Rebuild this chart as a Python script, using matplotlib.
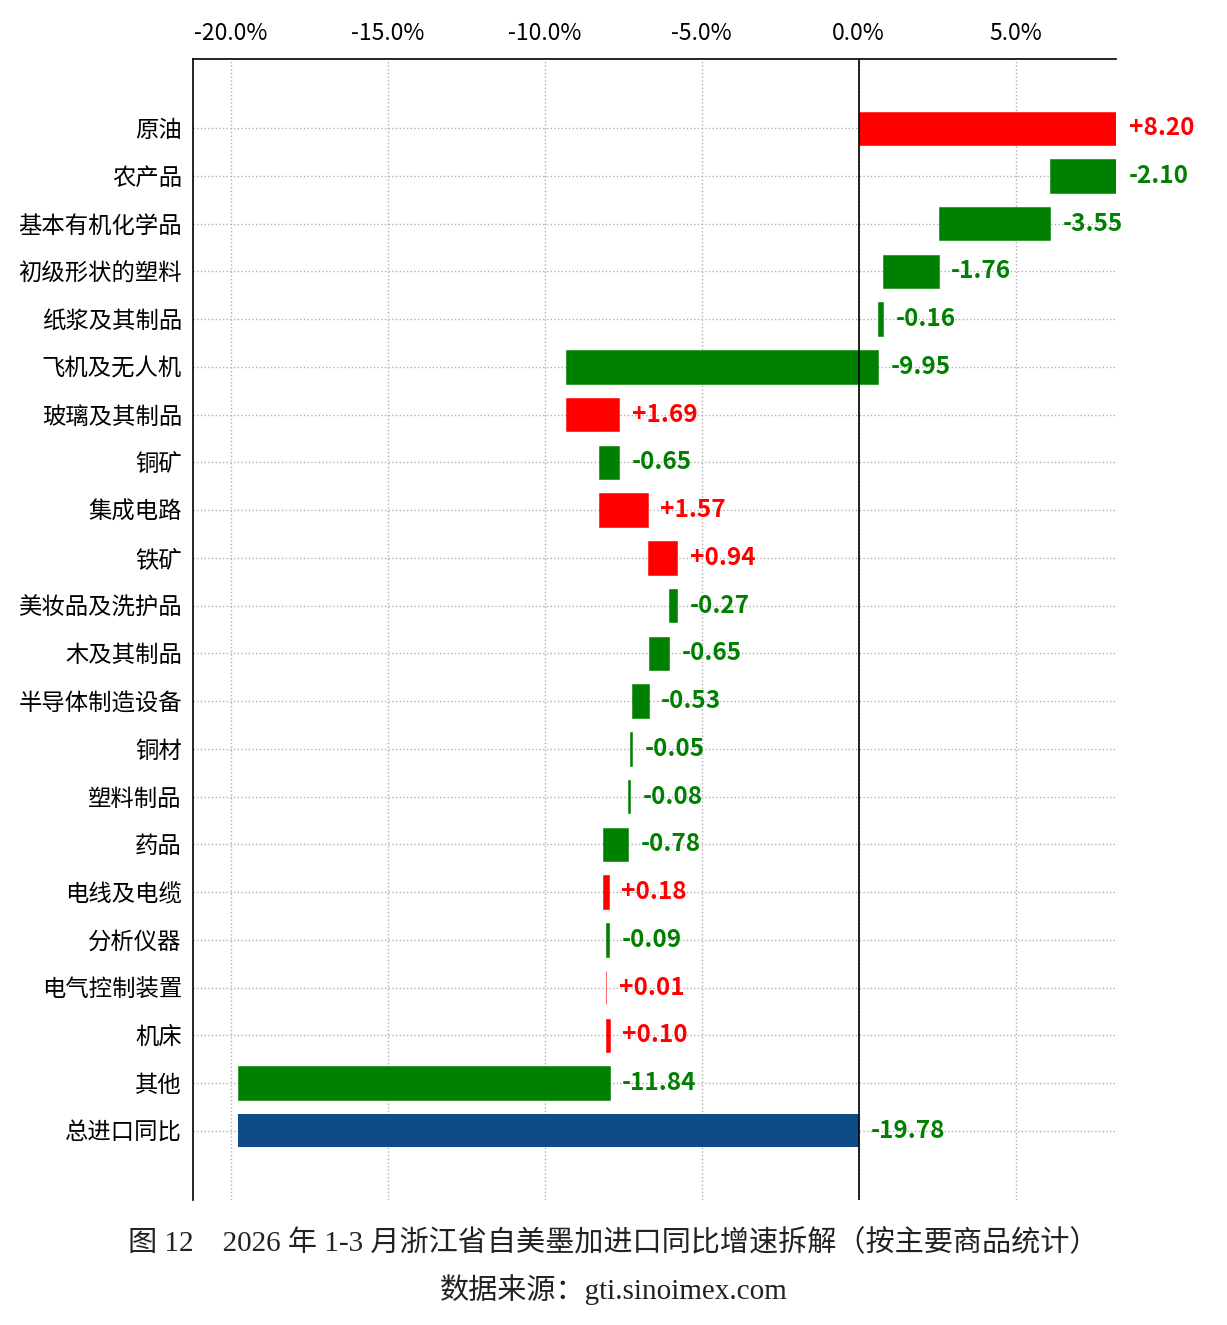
import matplotlib
matplotlib.use("Agg")
import matplotlib.pyplot as plt
import numpy as np

plt.rcParams['font.family'] = ['Noto Sans CJK SC', 'DejaVu Sans']

categories = ["原油", "农产品", "基本有机化学品", "初级形状的塑料", "纸浆及其制品", "飞机及无人机",
              "玻璃及其制品", "铜矿", "集成电路", "铁矿", "美妆品及洗护品", "木及其制品",
              "半导体制造设备", "铜材", "塑料制品", "药品", "电线及电缆", "分析仪器",
              "电气控制装置", "机床", "其他"]
contrib = [8.20, -2.10, -3.55, -1.76, -0.16, -9.95, 1.69, -0.65, 1.57, 0.94, -0.27, -0.65,
           -0.53, -0.05, -0.08, -0.78, 0.18, -0.09, 0.01, 0.10, -11.84]
total_label = "总进口同比"
total_value = -19.78
xticks = [-20, -15, -10, -5, 0, 5]

RED = "#FF0000"
GREEN = "#008000"
BLUE = "#0E4B87"

fig = plt.figure(figsize=(12.27, 13.25), dpi=100)
ax = fig.add_axes([193/1227, 1-1200/1325, (1116-193)/1227, (1200-59)/1325])

labels = categories + [total_label]
n = len(labels)
ypos = np.arange(n)

cum = 0.0
for i, v in enumerate(contrib):
    start = cum
    cum = cum + v
    color = RED if v > 0 else GREEN
    left = min(start, cum)
    ax.barh(i, abs(v), left=left, height=0.7, color=color, edgecolor=color, lw=0.4, zorder=3)
    ax.annotate(f"{v:+.2f}", xy=(max(start, cum), i), xytext=(9, 0), textcoords="offset points",
                ha="left", va="center", color=color, fontsize=17.5, fontweight="bold", zorder=4)

ax.barh(n-1, abs(total_value), left=min(0, total_value), height=0.7, color=BLUE, zorder=3)
ax.annotate(f"{total_value:.2f}", xy=(0, n-1), xytext=(9, 0), textcoords="offset points",
            ha="left", va="center", color=GREEN, fontsize=17.5, fontweight="bold", zorder=4)

ax.axvline(0, color="black", lw=1.2, zorder=5)

ax.set_xlim(-21.2, 8.2)
ax.set_ylim(n-1+1.45, -1.45)
ax.set_yticks(ypos)
ax.set_yticklabels(labels, fontsize=16.8)
ax.set_xticks(xticks)
ax.set_xticklabels([f"{t:.1f}%" for t in xticks], fontsize=16.5)
ax.xaxis.tick_top()
ax.tick_params(axis="y", length=0, pad=8)
ax.tick_params(axis="x", length=0, pad=10)
ax.grid(True, linestyle=":", color="#b0b0b0", lw=1, zorder=0)
for s in ["right", "bottom"]:
    ax.spines[s].set_visible(False)
for s in ["left", "top"]:
    ax.spines[s].set_color("black")
    ax.spines[s].set_linewidth(1.2)

serif = ['Liberation Serif', 'Noto Sans CJK SC']
fig.text(0.5, 1-1243/1325, "图 12　2026 年 1-3 月浙江省自美墨加进口同比增速拆解（按主要商品统计）",
         ha="center", va="center", fontsize=21, family=serif, color="#222222")
fig.text(0.5, 1-1290/1325, "数据来源：gti.sinoimex.com",
         ha="center", va="center", fontsize=21, family=serif, color="#222222")

fig.savefig("out.png", dpi=100)
